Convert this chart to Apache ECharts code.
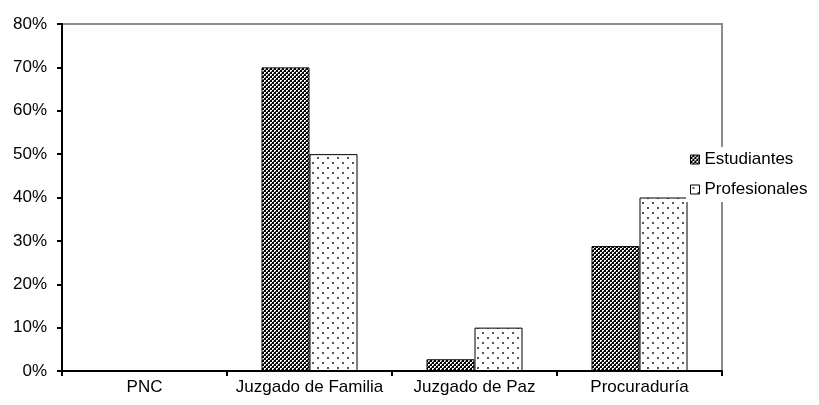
<!DOCTYPE html>
<html><head><meta charset="utf-8">
<script src="https://cdn.jsdelivr.net/npm/echarts@6/dist/echarts.min.js"></script>
<style>html,body{margin:0;padding:0;background:#fff}#c{width:819px;height:405px}</style>
</head><body><div id="c"></div>
<script>
const categories = ['PNC', 'Juzgado de Familia', 'Juzgado de Paz', 'Procuraduría'];
const estudiantes = [0, 70, 2.7, 28.8];
const profesionales = [0, 50, 10, 40];
const seriesNames = ['Estudiantes', 'Profesionales'];

function checker() {
  const c = document.createElement('canvas'); c.width = 4; c.height = 4;
  const g = c.getContext('2d');
  g.fillStyle = '#000'; g.fillRect(0, 0, 4, 4);
  g.fillStyle = '#fff'; g.fillRect(0, 0, 2, 2); g.fillRect(2, 2, 2, 2);
  g.fillStyle = '#555'; g.fillRect(1,1,1,1); g.fillRect(3,3,1,1);
  return c;
}
function dots() {
  const c = document.createElement('canvas'); c.width = 10; c.height = 10;
  const g = c.getContext('2d');
  g.fillStyle = '#fff'; g.fillRect(0, 0, 10, 10);
  g.fillStyle = '#555'; g.fillRect(2, 2, 2, 2); g.fillRect(7, 7, 2, 2);
  return c;
}
const chart = echarts.init(document.getElementById('c'));
const font = 'Liberation Sans';
chart.setOption({
  animation: false,
  textStyle: { fontFamily: font },
  grid: { left: 62, right: 97, top: 24, bottom: 34, show: true, borderColor: '#8c8c8c', borderWidth: 2 },
  legend: {
    orient: 'vertical', left: 686, top: 147, backgroundColor: '#fff', padding: [4, 0, 4, 4],
    itemWidth: 9, itemHeight: 9, itemGap: 13,
    textStyle: { fontFamily: font, fontSize: 17, color: '#000' },
    data: seriesNames.map(n => ({ name: n, icon: 'rect', itemStyle: { borderColor: '#000', borderWidth: 1 } }))
  },
  xAxis: {
    type: 'category', data: categories,
    axisLine: { lineStyle: { color: '#000', width: 2 } },
    axisTick: { show: true, interval: 0, length: 5, lineStyle: { color: '#000', width: 2 } },
    axisLabel: { interval: 0, color: '#000', fontSize: 17, fontFamily: font, margin: 8 }
  },
  yAxis: {
    type: 'value', min: 0, max: 80, interval: 10,
    axisLine: { show: true, lineStyle: { color: '#000', width: 2 } },
    axisTick: { show: true, length: 5, lineStyle: { color: '#000', width: 2 } },
    splitLine: { show: false },
    axisLabel: { color: '#000', fontSize: 17, fontFamily: font, formatter: '{value}%', margin: 15 }
  },
  series: [
    { name: seriesNames[0], type: 'bar', data: estudiantes, barWidth: 48, barGap: '0%',
      itemStyle: { color: { image: checker(), repeat: 'repeat' }, borderColor: '#000', borderWidth: 1 } },
    { name: seriesNames[1], type: 'bar', data: profesionales, barWidth: 48, barGap: '0%',
      itemStyle: { color: { image: dots(), repeat: 'repeat' }, borderColor: '#000', borderWidth: 1 } }
  ]
});
</script></body></html>
